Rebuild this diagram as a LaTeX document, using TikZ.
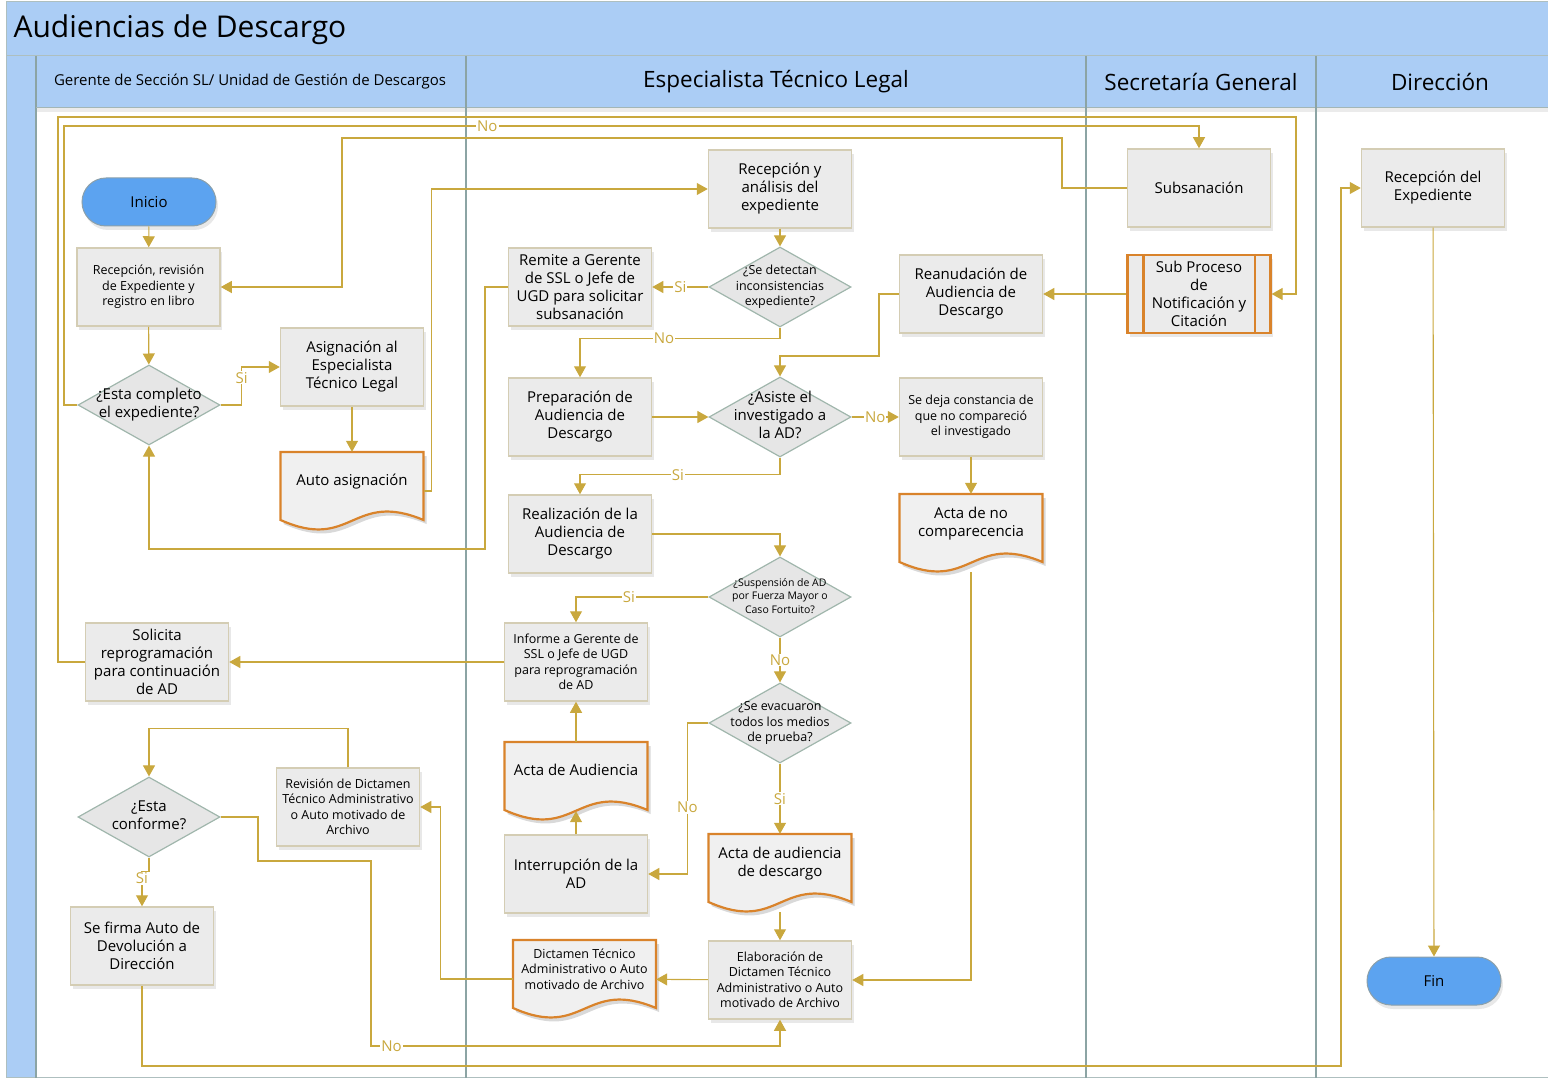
\documentclass[tikz,border=0pt]{standalone}
\usepackage{fontspec}
\setmainfont{Open Sans}
\usetikzlibrary{shapes.geometric,arrows.meta,calc,shadows}

\definecolor{hdrblue}{RGB}{171,205,245}
\definecolor{laneline}{RGB}{140,164,164}
\definecolor{linegold}{RGB}{201,168,62}
\definecolor{boxfill}{RGB}{235,235,235}
\definecolor{boxline}{RGB}{212,205,180}
\definecolor{decfill}{RGB}{230,230,230}
\definecolor{decline}{RGB}{160,182,172}
\definecolor{docorange}{RGB}{217,131,43}
\definecolor{docfill}{RGB}{240,240,240}
\definecolor{termblue}{RGB}{92,163,240}
\definecolor{termline}{RGB}{140,160,170}

\newcommand{\fsmain}{\fontsize{15}{18}\selectfont}
\newcommand{\fssmall}{\fontsize{12.5}{15.5}\selectfont}
\newcommand{\fstiny}{\fontsize{10.5}{13.5}\selectfont}
\newcommand{\qtxt}[1]{\hbox to 0pt{\hss\raisebox{-0.25em}{\begin{tabular}{@{}c@{}}#1\end{tabular}}\hss}}

\tikzset{
  proc/.style={rectangle, draw=boxline, line width=1.5pt, fill=boxfill,
    minimum width=143pt, minimum height=78pt, inner sep=2pt, align=center,
    font=\fsmain, drop shadow={shadow xshift=2pt, shadow yshift=-4pt, fill=black!18}},
  decision/.style={diamond, draw=decline, line width=1.2pt, fill=decfill,
    minimum width=142pt, minimum height=80pt, inner sep=0pt,
    text height=0pt, text depth=0pt, font=\fsmain},
  term/.style={rectangle, rounded corners=24pt, draw=termline, line width=1pt,
    fill=termblue, minimum width=134pt, minimum height=48pt, font=\fsmain,
    drop shadow={shadow xshift=2pt, shadow yshift=-4pt, fill=black!18}},
  docbox/.style={rectangle, minimum width=143pt, minimum height=78pt, inner sep=2pt,
    align=center, text depth=23pt, font=\fsmain},
  docline/.style={draw=docorange, line width=2.2pt, fill=docfill},
  flow/.style={draw=linegold, line width=1.1pt, -{Triangle[length=11pt,width=12pt]}},
  lbl/.style={fill=white, text=linegold, inner sep=1pt, font=\fontsize{15}{17}\selectfont},
  hdr/.style={font=\fontsize{22.5}{26}\selectfont}
}

% document shape: [options], name, centre, text
\newcommand{\docnode}[4][]{%
  \fill[black!15] (#3) ++(-68.5,-35) -- ++(143,0) -- ++(0,68)
    .. controls +(-71.5,-30) and +(71.5,32) .. ++(-143,0) -- cycle;
  \filldraw[docline] (#3) ++(-71.5,-39) -- ++(143,0) -- ++(0,68)
    .. controls +(-71.5,-30) and +(71.5,32) .. ++(-143,0) -- cycle;
  \node[docbox,#1] (#2) at (#3) {#4};
  \coordinate (#2-b) at ($(#2.south)+(0,-9)$);}

\begin{document}
\begin{tikzpicture}[x=1pt, y=-1pt]
  \useasboundingbox (0,0) rectangle (1548,1078);

  % Pool and lanes
  \fill[hdrblue] (6,2) rectangle (1548,56);
  \fill[hdrblue] (6,56) rectangle (36,1078);
  \fill[hdrblue] (36,56) rectangle (1548,108);
  \fill[black!8] (36,108) rectangle (1548,112);
  \draw[laneline!70, line width=1pt] (1548,2) -- (6,2) -- (6,1077) -- (1548,1077);
  \draw[laneline!70, line width=1pt] (6,56) -- (1548,56);
  \draw[laneline, line width=1.5pt] (36,56) -- (36,1078);
  \draw[laneline!80, line width=1pt] (36,108) -- (1548,108);
  \foreach \x in {466,1086,1316}
    \draw[laneline, line width=1.5pt] (\x,56) -- (\x,1078);

  \node[anchor=west, font=\fontsize{30}{36}\selectfont] (ttl) at (10,30) {Audiencias de Descargo};
  \node[font=\fontsize{15}{18}\selectfont] (lane1) at (250,82) {Gerente de Sección SL/ Unidad de Gestión de Descargos};
  \node[hdr] (lane2) at (776,82) {Especialista Técnico Legal};
  \node[hdr] (lane3) at (1201,82) {Secretaría General};
  \node[hdr] (lane4) at (1440,82) {Dirección};

  % Gerente de Seccion
  \node[term] (inicio) at (149,202) {Inicio};
  \node[proc, font=\fssmall] (rec1) at (148.5,287) {Recepción, revisión\\de Expediente y\\registro en libro};
  \node[decision] (dec1) at (149,405) {\qtxt{¿Esta completo\\el expediente?}};
  \node[proc] (asig) at (352,367) {Asignación al\\Especialista\\Técnico Legal};
  \docnode{autoasig}{352,491}{Auto asignación}
  \node[proc] (solicita) at (157,662) {Solicita\\reprogramación\\para continuación\\de AD};
  \node[decision] (dec2) at (149,817) {\qtxt{¿Esta\\conforme?}};
  \node[proc, font=\fssmall] (revision) at (348,807) {Revisión de Dictamen\\Técnico Administrativo\\o Auto motivado de\\Archivo};
  \node[proc] (firma) at (142,946) {Se firma Auto de\\Devolución a\\Dirección};

  % Especialista Tecnico Legal
  \node[proc] (recexp) at (780,189) {Recepción y\\análisis del\\expediente};
  \node[decision, font=\fssmall] (dec3) at (780,287) {\qtxt{¿Se detectan\\inconsistencias\\expediente?}};
  \node[proc] (remite) at (580,287) {Remite a Gerente\\de SSL o Jefe de\\UGD para solicitar\\subsanación};
  \node[proc] (prep) at (580,417) {Preparación de\\Audiencia de\\Descargo};
  \node[decision] (dec4) at (780,417) {\qtxt{¿Asiste el\\investigado a\\la AD?}};
  \node[proc] (realiz) at (580,534) {Realización de la\\Audiencia de\\Descargo};
  \node[decision, font=\fstiny] (dec5) at (780,597) {\qtxt{¿Suspensión de AD\\por Fuerza Mayor o\\Caso Fortuito?}};
  \node[proc, font=\fssmall] (informe) at (576,662) {Informe a Gerente de\\SSL o Jefe de UGD\\para reprogramación\\de AD};
  \node[decision, font=\fssmall] (dec6) at (780,723) {\qtxt{¿Se evacuaron\\todos los medios\\de prueba?}};
  \docnode{actaaud}{576,781}{Acta de Audiencia}
  \node[proc] (interr) at (576,874) {Interrupción de la\\AD};
  \docnode{actadesc}{780,873}{Acta de audiencia\\de descargo}
  \docnode[font=\fssmall, text depth=20pt]{dictamen}{584.5,979}{Dictamen Técnico\\Administrativo o Auto\\motivado de Archivo}
  \node[proc, font=\fssmall] (elab) at (780,980) {Elaboración de\\Dictamen Técnico\\Administrativo o Auto\\motivado de Archivo};
  \node[proc] (reanud) at (971,294) {Reanudación de\\Audiencia de\\Descargo};
  \node[proc, font=\fssmall] (constancia) at (971,417) {Se deja constancia de\\que no compareció\\el investigado};
  \docnode{actano}{971,533}{Acta de no\\comparecencia}

  % Secretaria General
  \node[proc] (subsan) at (1199,188) {Subsanación};
  \node[proc, draw=docorange, line width=2.2pt] (subproc) at (1199,294) {Sub Proceso\\de\\Notificación y\\Citación};
  \draw[docorange, line width=2.2pt] ($(subproc.north west)+(17,0)$) -- ($(subproc.south west)+(17,0)$);
  \draw[docorange, line width=2.2pt] ($(subproc.north east)+(-17,0)$) -- ($(subproc.south east)+(-17,0)$);

  % Direccion
  \node[proc] (recdir) at (1433,188) {Recepción del\\Expediente};
  \node[term] (fin) at (1434,981) {Fin};

  % Connectors
  \draw[flow] (inicio) -- (rec1);
  \draw[flow] (rec1) -- (dec1);
  \draw[flow] (dec1.east) -- ++(21,0) |- node[lbl, pos=0.36] {Si} (asig.west);
  \draw[flow] (dec1.west) -| (64,126) -- node[lbl, pos=0.373] {No} (1199,126) -- (subsan.north);
  \draw[flow] (solicita.west) -| (58,117) -- (1296,117) |- (subproc.east);
  \draw[flow] (subsan.west) -| (1062,138) -| (342,287) -- (rec1.east);
  \draw[flow] (asig) -- (autoasig);
  \draw[flow] (autoasig.east) -- ++(8,0) |- (recexp.west);
  \draw[flow] (recexp) -- (dec3);
  \draw[flow] (dec3) -- node[lbl] {Si} (remite);
  \draw[flow] (remite.west) -| (485,549) -| (dec1.south);
  \draw[flow] (dec3.south) -- ++(0,11) -| node[lbl, pos=0.29] {No} (prep.north);
  \draw[flow] (prep) -- (dec4);
  \draw[flow] (dec4) -- node[lbl] {No} (constancia);
  \draw[flow] (dec4.south) -- ++(0,17) -| node[lbl, pos=0.255] {Si} (realiz.north);
  \draw[flow] (reanud.west) -| (879,356) -| (dec4.north);
  \draw[flow] (subproc) -- (reanud);
  \draw[flow] (constancia) -- (actano);
  \draw[flow] (actano.south) |- (elab.east);
  \draw[flow] (realiz.east) -| (dec5.north);
  \draw[flow] (dec5.west) -| node[lbl, pos=0.3] {Si} (informe.north);
  \draw[flow] (dec5) -- node[lbl] {No} (dec6);
  \draw[flow] (informe) -- (solicita);
  \draw[flow] (dec6.west) -- ++(-21,0) |- node[lbl, pos=0.28] {No} (interr.east);
  \draw[flow] (dec6) -- node[lbl] {Si} (actadesc);
  \draw[flow] (interr) -- (actaaud-b);
  \draw[flow] (actaaud) -- (informe);
  \draw[flow] (actadesc) -- (elab);
  \draw[flow] (elab) -- (dictamen);
  \draw[flow] (dictamen.west) -- ++(-72,0) |- (revision.east);
  \draw[flow] (revision.north) -- ++(0,-39) -| (dec2.north);
  \draw[flow] (dec2.east) -| (258,861) -| (371,1046) -- node[lbl, pos=0.05] {No} (780,1046) -- (elab.south);
  \draw[flow] (dec2.south) -- ++(0,14) -| node[lbl, pos=0.6] {Si} (firma.north);
  \draw[flow] (firma.south) |- (1341,1066) |- (recdir.west);
  \draw[flow] (recdir) -- (fin);
\end{tikzpicture}
\end{document}
